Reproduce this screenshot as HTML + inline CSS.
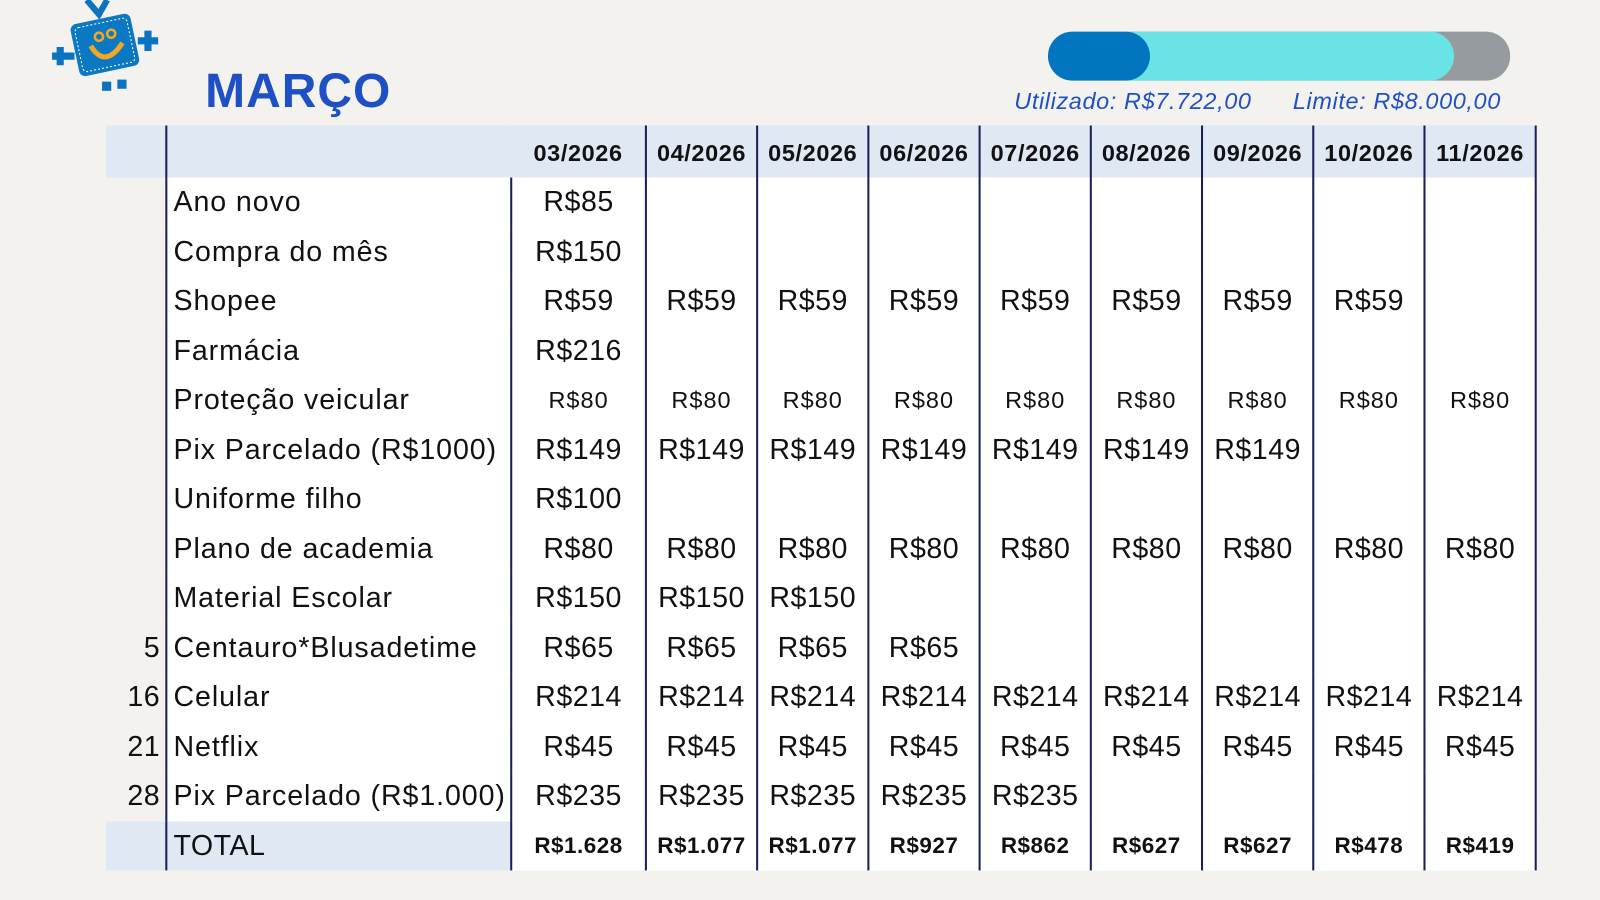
<!DOCTYPE html>
<html><head><meta charset="utf-8"><style>
body{margin:0;width:1600px;height:900px;background:#f3f2ef;overflow:hidden;font-family:"Liberation Sans",sans-serif;}
#w{position:absolute;left:0;top:0;width:1568px;height:882px;transform:scale(1.0204);transform-origin:0 0}
.title{position:absolute;left:201px;top:61px;font-size:47px;font-weight:bold;color:#1e4fc4;letter-spacing:1px}
.bar{position:absolute;left:1027px;top:31px;width:453px;height:48px;border-radius:24px;background:#959b9e;overflow:hidden}
.cy{position:absolute;left:0;top:0;width:398px;height:48px;border-radius:24px;background:#6ae3e7}
.db{position:absolute;left:0;top:0;width:100px;height:48px;border-radius:24px;background:#0175c0}
.lbl{position:absolute;top:86px;font-size:23px;font-style:italic;color:#2150c4;letter-spacing:0.6px}
table{position:absolute;left:104px;top:123px;width:1401px;border-collapse:collapse;table-layout:fixed}
td{padding:0;height:48.5px;font-size:28px;color:#111;text-align:center;white-space:nowrap;background:#fff;letter-spacing:0.5px;overflow:visible}
tr.h td{background:#dfe8f3;font-weight:bold;font-size:23px;height:48px;padding-top:3px;letter-spacing:0.6px}
td.b{border-left:2px solid #1a1f5a}
td.d{text-align:right;padding-right:5px;background:transparent}
tr.s td{font-size:23px;letter-spacing:1px}
tr td.n{text-align:left;padding-left:6px;font-size:28px;letter-spacing:0.9px}
tr.t td{font-weight:bold;font-size:22px;letter-spacing:0.5px}
tr.t td.n{font-weight:normal;font-size:28px;background:#dfe8f3}
tr.t td.d{background:#dfe8f3}
td.r{border-right:2px solid #1a1f5a}
</style></head><body><div id="w">
<svg style="position:absolute;left:45px;top:0" width="120" height="100" viewBox="0 0 120 100">
<path d="M40 0 L52 14 L60 0" stroke="#0b73c0" stroke-width="6" fill="none"/>
<g transform="rotate(-12 58 45)"><rect x="28" y="18" width="60" height="52" rx="6" fill="#0b78c3"/>
<rect x="32" y="22" width="52" height="44" rx="4" fill="none" stroke="#fff" stroke-dasharray="2 2" stroke-width="1"/></g>
<circle cx="52" cy="36" r="4" fill="none" stroke="#f5a623" stroke-width="2.5"/>
<circle cx="64" cy="33" r="4" fill="none" stroke="#f5a623" stroke-width="2.5"/>
<path d="M44 45 Q58 68 75 42" stroke="#f5a623" stroke-width="5" fill="none"/>
<path d="M6 55 h22 M14 46 v18" stroke="#0b73c0" stroke-width="7"/>
<path d="M90 40 h20 M100 30 v20" stroke="#0b73c0" stroke-width="7"/>
<rect x="55" y="80" width="9" height="9" fill="#0b73c0"/><rect x="70" y="78" width="9" height="9" fill="#0b73c0"/>
</svg>
<div class="title">MARÇO</div>
<div class="bar"><div class="cy"></div><div class="db"></div></div>
<div class="lbl" style="left:994px">Utilizado: R$7.722,00</div>
<div class="lbl" style="left:1267px">Limite: R$8.000,00</div>
<table>
<colgroup><col style="width:59px"><col style="width:338px"><col style="width:132px"><col style="width:109px"><col style="width:109px"><col style="width:109px"><col style="width:109px"><col style="width:109px"><col style="width:109px"><col style="width:109px"><col style="width:109px"></colgroup>
<tr class="h"><td></td><td class="b"></td><td>03/2026</td><td class="b">04/2026</td><td class="b">05/2026</td><td class="b">06/2026</td><td class="b">07/2026</td><td class="b">08/2026</td><td class="b">09/2026</td><td class="b">10/2026</td><td class="b r">11/2026</td></tr>
<tr><td class="d"></td><td class="b n">Ano novo</td><td class="b">R$85</td><td class="b"></td><td class="b"></td><td class="b"></td><td class="b"></td><td class="b"></td><td class="b"></td><td class="b"></td><td class="b r"></td></tr>
<tr><td class="d"></td><td class="b n">Compra do mês</td><td class="b">R$150</td><td class="b"></td><td class="b"></td><td class="b"></td><td class="b"></td><td class="b"></td><td class="b"></td><td class="b"></td><td class="b r"></td></tr>
<tr><td class="d"></td><td class="b n">Shopee</td><td class="b">R$59</td><td class="b">R$59</td><td class="b">R$59</td><td class="b">R$59</td><td class="b">R$59</td><td class="b">R$59</td><td class="b">R$59</td><td class="b">R$59</td><td class="b r"></td></tr>
<tr><td class="d"></td><td class="b n">Farmácia</td><td class="b">R$216</td><td class="b"></td><td class="b"></td><td class="b"></td><td class="b"></td><td class="b"></td><td class="b"></td><td class="b"></td><td class="b r"></td></tr>
<tr class="s"><td class="d"></td><td class="b n">Proteção veicular</td><td class="b">R$80</td><td class="b">R$80</td><td class="b">R$80</td><td class="b">R$80</td><td class="b">R$80</td><td class="b">R$80</td><td class="b">R$80</td><td class="b">R$80</td><td class="b r">R$80</td></tr>
<tr><td class="d"></td><td class="b n">Pix Parcelado (R$1000)</td><td class="b">R$149</td><td class="b">R$149</td><td class="b">R$149</td><td class="b">R$149</td><td class="b">R$149</td><td class="b">R$149</td><td class="b">R$149</td><td class="b"></td><td class="b r"></td></tr>
<tr><td class="d"></td><td class="b n">Uniforme filho</td><td class="b">R$100</td><td class="b"></td><td class="b"></td><td class="b"></td><td class="b"></td><td class="b"></td><td class="b"></td><td class="b"></td><td class="b r"></td></tr>
<tr><td class="d"></td><td class="b n">Plano de academia</td><td class="b">R$80</td><td class="b">R$80</td><td class="b">R$80</td><td class="b">R$80</td><td class="b">R$80</td><td class="b">R$80</td><td class="b">R$80</td><td class="b">R$80</td><td class="b r">R$80</td></tr>
<tr><td class="d"></td><td class="b n">Material Escolar</td><td class="b">R$150</td><td class="b">R$150</td><td class="b">R$150</td><td class="b"></td><td class="b"></td><td class="b"></td><td class="b"></td><td class="b"></td><td class="b r"></td></tr>
<tr><td class="d">5</td><td class="b n">Centauro*Blusadetime</td><td class="b">R$65</td><td class="b">R$65</td><td class="b">R$65</td><td class="b">R$65</td><td class="b"></td><td class="b"></td><td class="b"></td><td class="b"></td><td class="b r"></td></tr>
<tr><td class="d">16</td><td class="b n">Celular</td><td class="b">R$214</td><td class="b">R$214</td><td class="b">R$214</td><td class="b">R$214</td><td class="b">R$214</td><td class="b">R$214</td><td class="b">R$214</td><td class="b">R$214</td><td class="b r">R$214</td></tr>
<tr><td class="d">21</td><td class="b n">Netflix</td><td class="b">R$45</td><td class="b">R$45</td><td class="b">R$45</td><td class="b">R$45</td><td class="b">R$45</td><td class="b">R$45</td><td class="b">R$45</td><td class="b">R$45</td><td class="b r">R$45</td></tr>
<tr><td class="d">28</td><td class="b n">Pix Parcelado (R$1.000)</td><td class="b">R$235</td><td class="b">R$235</td><td class="b">R$235</td><td class="b">R$235</td><td class="b">R$235</td><td class="b"></td><td class="b"></td><td class="b"></td><td class="b r"></td></tr>
<tr class="t"><td class="d"></td><td class="b n">TOTAL</td><td class="b">R$1.628</td><td class="b">R$1.077</td><td class="b">R$1.077</td><td class="b">R$927</td><td class="b">R$862</td><td class="b">R$627</td><td class="b">R$627</td><td class="b">R$478</td><td class="b r">R$419</td></tr>
</table>
</div></body></html>
